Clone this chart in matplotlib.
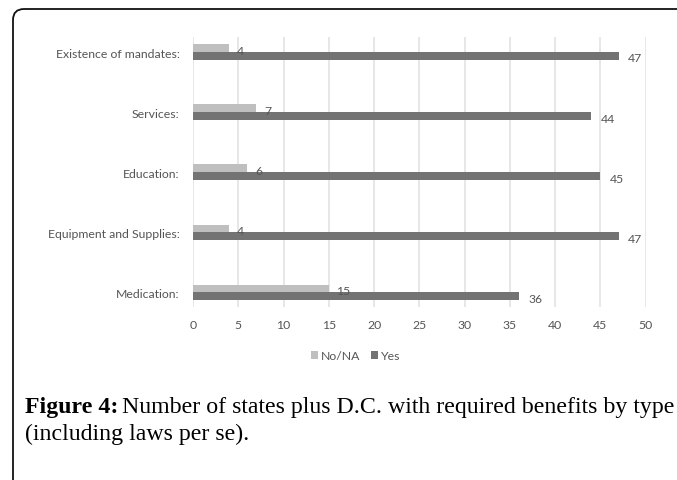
import matplotlib
matplotlib.use("Agg")
import matplotlib.pyplot as plt
from matplotlib.patches import FancyBboxPatch

categories = ["Existence of mandates:", "Services:", "Education:",
              "Equipment and Supplies:", "Medication:"]
no_na = [4, 7, 6, 4, 15]
yes = [47, 44, 45, 47, 36]
series_names = ["No/NA", "Yes"]
x_ticks = [0, 5, 10, 15, 20, 25, 30, 35, 40, 45, 50]
caption_bold = "Figure 4:"
caption_line1 = "Number of states plus D.C. with required benefits by type"
caption_line2 = "(including laws per se)."

LIGHT = "#bfbfbf"
DARK = "#737373"
GRID = "#e3e3e3"
TEXT = "#555555"
SANS = ["Lato", "DejaVu Sans"]
SERIF = ["Liberation Serif", "DejaVu Serif"]
FS = 8.8
CAP_FS = 17.2

W, H = 677, 481
fig = plt.figure(figsize=(W / 100, H / 100), dpi=100)

# page frame with rounded top-left corner, running off the right and bottom edges
bg = fig.add_axes([0, 0, 1, 1], zorder=0)
bg.set_xlim(0, W)
bg.set_ylim(H, 0)
bg.axis("off")
frame = FancyBboxPatch((13, 10), 800, 600,
                       boxstyle="round,pad=0,rounding_size=11",
                       facecolor="none", edgecolor="#111111", linewidth=1.3)
bg.add_patch(frame)

# chart area
ax = fig.add_axes([193 / W, 1 - 308.3 / H, (645.7 - 193) / W, (308.3 - 38) / H], zorder=1)
ax.patch.set_alpha(0)
n = len(categories)
ypos = [n - 1 - i for i in range(n)]
h = 0.128
ax.barh([y + h / 2 for y in ypos], no_na, height=h, color=LIGHT, label=series_names[0], zorder=2)
ax.barh([y - h / 2 for y in ypos], yes, height=h, color=DARK, label=series_names[1], zorder=2)

for y, v in zip(ypos, no_na):
    ax.annotate(str(v), (v, y + h / 2), xytext=(5.5, -1.5), textcoords="offset points",
                ha="left", va="center", fontsize=FS, color=TEXT, family=SANS)
for y, v in zip(ypos, yes):
    ax.annotate(str(v), (v, y - h / 2), xytext=(7, -1.5), textcoords="offset points",
                ha="left", va="center", fontsize=FS, color=TEXT, family=SANS)

ax.set_xlim(0, 50)
ax.set_ylim(-0.25, n - 1 + 0.25)
ax.set_xticks(x_ticks)
ax.set_yticks(ypos)
ax.set_yticklabels(categories)
ax.tick_params(axis="both", length=0, colors=TEXT, labelsize=FS)
ax.tick_params(axis="x", pad=8.5)
ax.tick_params(axis="y", pad=9.5)
for lab in ax.get_xticklabels() + ax.get_yticklabels():
    lab.set_family(SANS)
ax.grid(axis="x", color=GRID, linewidth=1.2, zorder=0)
ax.set_axisbelow(True)
for s in ax.spines.values():
    s.set_visible(False)

leg = fig.legend(loc="center", bbox_to_anchor=(355.5 / W, 1 - 357 / H), ncol=2,
                 frameon=False, handlelength=0.55, handleheight=0.55, handletextpad=0.25,
                 columnspacing=0.9, prop={"family": SANS, "size": FS})
for t in leg.get_texts():
    t.set_color(TEXT)

# caption
t1 = fig.text(25 / W, 1 - 413 / H, caption_bold, fontsize=CAP_FS, fontweight="bold",
              family=SERIF, va="baseline", ha="left", color="black")
fig.canvas.draw()
r = fig.canvas.get_renderer()
bb = t1.get_window_extent(r)
fig.text(bb.x1 / W + 4 / W, 1 - 413 / H, caption_line1, fontsize=CAP_FS,
         family=SERIF, va="baseline", ha="left", color="black")
fig.text(25 / W, 1 - 440 / H, caption_line2, fontsize=CAP_FS,
         family=SERIF, va="baseline", ha="left", color="black")

fig.savefig("out.png", dpi=100)
